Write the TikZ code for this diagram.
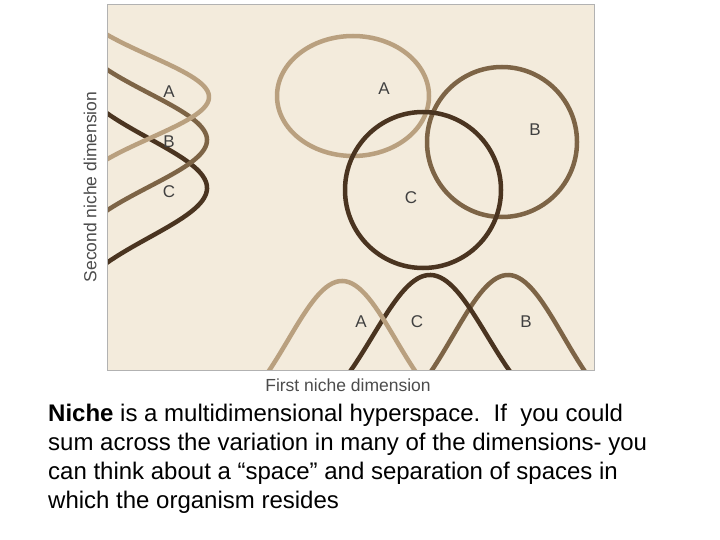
\documentclass[tikz,border=0pt]{standalone}
\usepackage{fontspec}
\setmainfont{Liberation Sans}
\begin{document}
\begin{tikzpicture}[x=1pt,y=-1pt,
 ca/.style={draw=cA,line width=4.5pt},
 cb/.style={draw=cB,line width=4.5pt},
 cc/.style={draw=cC,line width=4.5pt},
 lbl/.style={font=\fontsize{17}{19}\selectfont,text=black!75},
 axl/.style={font=\fontsize{17.5}{19}\selectfont,text=black!70}]
\definecolor{cA}{HTML}{B9A07F}
\definecolor{cB}{HTML}{7D6446}
\definecolor{cC}{HTML}{4A3420}
\definecolor{bg}{HTML}{F3EBDC}
\useasboundingbox (0,0) rectangle (720,540);
\fill[bg] (107,5) rectangle (594,370);
\begin{scope}
\clip (107,5) rectangle (594,370);
\draw[cc] plot[domain=5:370,samples=150] ({60+147*exp(-((\x-188)/70)*((\x-188)/70))},\x);
\draw[cb] plot[domain=5:370,samples=150] ({60+147*exp(-((\x-140)/66)*((\x-140)/66))},\x);
\draw[ca] plot[domain=5:370,samples=150] ({60+149*exp(-((\x-97)/58)*((\x-97)/58))},\x);
\draw[cb] plot[domain=107:594,samples=150] (\x,{430-155*exp(-((\x-508)/78)*((\x-508)/78))});
\draw[cc] plot[domain=107:594,samples=150] (\x,{430-155*exp(-((\x-430)/81)*((\x-430)/81))});
\draw[ca] plot[domain=107:594,samples=150] (\x,{430-149*exp(-((\x-342)/76)*((\x-342)/76))});
\end{scope}
\draw[ca] (353,96) ellipse[x radius=76,y radius=60];
\draw[cb] (502,142) circle[radius=75];
\draw[cc] (423,190) circle[radius=78];
\draw[gray!60,line width=1pt] (107,5) rectangle (594,370);
\node[lbl] (la) at (169,92) {A};
\node[lbl] (lb) at (169,142) {B};
\node[lbl] (lc) at (169,192) {C};
\node[lbl] (ka) at (384,89) {A};
\node[lbl] (kb) at (535,130) {B};
\node[lbl] (kc) at (411,198) {C};
\node[lbl] (ba) at (361,322) {A};
\node[lbl] (bc) at (417,322) {C};
\node[lbl] (bb) at (526,322) {B};
\node[axl,rotate=90] (ay) at (90,187) {Second niche dimension};
\node[axl] (ax) at (348,385) {First niche dimension};
\node[anchor=north west,align=left,font=\fontsize{24}{29}\selectfont,inner sep=0] (cap) at (48,404)
 {\textbf{Niche} is a multidimensional hyperspace.\ \ If\ \ you could\\sum across the variation in many of the dimensions- you\\can think about a “space” and separation of spaces in\\which the organism resides};
\end{tikzpicture}
\end{document}
